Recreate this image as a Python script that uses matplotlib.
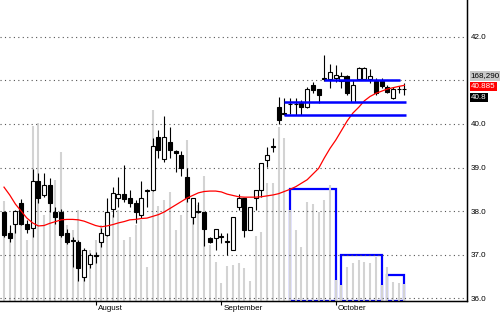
import numpy as np
import matplotlib
matplotlib.use("Agg")
import matplotlib.pyplot as plt
import matplotlib.transforms as mtrans

plt.rcParams['font.family'] = ['Liberation Sans', 'DejaVu Sans']

opens = [37.98, 37.49, 37.70, 38.19, 37.70, 37.61, 38.70, 38.37, 38.60, 37.99,
         37.99, 37.50, 37.34, 37.30, 36.50, 36.78, 36.98, 37.30, 37.45, 38.06,
         38.30, 38.40, 38.31, 38.19, 37.92, 38.46, 38.48, 39.70, 39.19, 39.59,
         39.38, 39.29, 38.79, 37.87, 37.99, 37.99, 37.38, 37.38, 37.40, 37.30,
         37.11, 38.09, 38.29, 37.57, 38.29, 38.48, 39.17, 39.48, 40.39, 40.23,
         40.45, 40.45, 40.49, 40.38, 40.89, 40.79, 41.02, 41.02, 41.05, 40.99,
         41.10, 40.51, 41.02, 41.02, 41.02, 40.99, 40.99, 40.85, 40.59, 40.79,
         40.79]
highs = [38.00, 37.68, 38.02, 38.28, 37.80, 38.96, 38.88, 38.87, 38.76, 38.10,
         38.05, 37.59, 37.41, 37.34, 37.15, 37.04, 37.07, 37.61, 38.29, 38.55,
         38.79, 39.06, 38.48, 38.25, 38.68, 38.50, 39.67, 39.86, 40.18, 39.93,
         39.40, 39.38, 38.98, 38.30, 38.22, 37.99, 37.41, 37.58, 37.50, 37.49,
         37.87, 38.39, 38.29, 38.09, 38.48, 39.10, 39.48, 39.67, 40.62, 40.59,
         40.59, 40.59, 40.55, 40.85, 40.97, 40.79, 41.57, 41.37, 41.35, 41.20,
         41.12, 41.00, 41.30, 41.30, 41.25, 41.05, 41.05, 40.89, 40.85, 40.87,
         40.93]
lows = [37.40, 37.30, 37.49, 37.68, 37.50, 37.40, 38.18, 38.33, 37.99, 37.70,
        37.41, 37.24, 36.72, 36.40, 36.40, 36.69, 36.82, 37.18, 37.42, 37.87,
        38.10, 38.20, 38.10, 37.72, 37.85, 38.10, 38.47, 39.21, 39.13, 39.22,
        38.90, 38.80, 38.22, 37.70, 37.95, 37.20, 37.26, 37.11, 37.28, 36.99,
        37.11, 38.03, 37.41, 37.57, 38.03, 38.33, 39.02, 39.36, 40.00, 40.20,
        40.23, 40.20, 40.20, 40.36, 40.72, 40.49, 40.98, 40.82, 40.95, 40.82,
        40.66, 40.50, 41.00, 41.00, 40.93, 40.66, 40.82, 40.70, 40.56, 40.70,
        40.66]
closes = [37.45, 37.38, 38.00, 37.70, 37.58, 38.68, 38.30, 38.60, 38.18, 37.87,
          37.45, 37.30, 37.31, 36.69, 37.11, 36.99, 37.00, 37.50, 37.99, 38.41,
          38.40, 38.27, 38.19, 37.99, 38.29, 38.48, 39.49, 39.40, 39.71, 39.40,
          39.34, 38.98, 38.29, 38.29, 38.00, 37.58, 37.30, 37.58, 37.42, 37.31,
          37.87, 38.29, 37.57, 38.09, 38.48, 39.10, 39.29, 39.50, 40.09, 40.24,
          40.46, 40.46, 40.38, 40.79, 40.78, 40.66, 41.05, 41.20, 41.12, 41.10,
          40.70, 40.89, 41.28, 41.28, 41.10, 40.70, 40.87, 40.74, 40.79, 40.80,
          40.80]
# volume in thousands
volume = [1000, 700, 855, 955, 605, 1745, 1775, 855, 1005, 1205,
          1485, 755, 705, 905, 455, 505, 605, 755, 655, 855,
          905, 605, 635, 755, 805, 335, 1905, 945, 1005, 1085,
          705, 855, 1605, 905, 955, 1245, 555, 385, 175, 345,
          355, 375, 325, 195, 645, 685, 1175, 1175, 1735, 1625,
          905, 705, 535, 985, 965, 885, 1005, 1155, 205, 155,
          335, 375, 405, 385, 375, 435, 155, 335, 185, 175,
          168.29]
ma = [38.55, 38.37, 38.16, 38.00, 37.84, 37.73, 37.66, 37.67, 37.72, 37.76,
      37.80, 37.81, 37.81, 37.80, 37.77, 37.72, 37.67, 37.64, 37.66, 37.69,
      37.73, 37.76, 37.80, 37.81, 37.83, 37.84, 37.88, 37.92, 37.98, 38.06,
      38.14, 38.22, 38.30, 38.36, 38.42, 38.45, 38.46, 38.46, 38.44, 38.39,
      38.36, 38.33, 38.32, 38.32, 38.32, 38.33, 38.35, 38.37, 38.40, 38.45,
      38.50, 38.56, 38.64, 38.72, 38.85, 38.98, 39.22, 39.44, 39.63, 39.85,
      40.07, 40.25, 40.38, 40.53, 40.63, 40.70, 40.75, 40.80, 40.83, 40.86,
      40.885]

# volume boxes: start index, end index, height (thousands)
box_start = [50, 59, 67]
box_end = [58, 66, 70]
box_vol = [1112, 455, 258]

# horizontal levels: price, start index, end index
lvl_price = [41.0, 40.5, 40.2]
lvl_start = [56, 49, 49]
lvl_end = [69.2, 70.2, 70.2]

month_pos = [16, 38, 58]
month_names = ["August", "September", "October"]

price_ticks = [36.0, 37.0, 38.0, 39.0, 40.0, 41.0, 42.0]

tag_text = ["168,290", "40.885", "40.8"]
tag_y = [41.10, 40.862, 40.61]
tag_bg = ["#c8c8c8", "#ff0000", "#000000"]
tag_fg = ["black", "white", "white"]

fig = plt.figure(figsize=(5, 3.12), dpi=100)
ax = fig.add_axes([0, 11.5 / 312, 467 / 500, 300.5 / 312])
ax2 = ax.twinx()
ax.set_zorder(ax2.get_zorder() + 1)
ax.patch.set_visible(False)

idx = np.arange(len(closes))
o = np.array(opens)
c = np.array(closes)

# volume + boxes on the back axis
ax2.vlines(idx, 0, volume, color="#d3d3d3", linewidth=1.5)
for s, e, v in zip(box_start, box_end, box_vol):
    ax2.add_patch(plt.Rectangle((s, 0), e - s, v, fill=False,
                                edgecolor="#0000ff", linewidth=1.6))
ax2.set_ylim(0, 3005)
ax2.set_yticks([])

# grid
for p in price_ticks:
    ax.axhline(p, color="#555555", linestyle=(0, (1, 3)), linewidth=0.8, zorder=1)

# candles
ax.vlines(idx, lows, highs, color="black", linewidth=0.8, zorder=3)
up = c >= o
bottom = np.minimum(o, c)
height = np.maximum(np.abs(c - o), 0.005)
ax.bar(idx[up], height[up], bottom=bottom[up], width=0.7,
       facecolor="white", edgecolor="black", linewidth=0.8, zorder=4)
ax.bar(idx[~up], height[~up], bottom=bottom[~up], width=0.7,
       facecolor="black", edgecolor="black", linewidth=0.8, zorder=4)

ax.plot(idx, ma, color="#ff0000", linewidth=0.9, zorder=5)

for p, s, e in zip(lvl_price, lvl_start, lvl_end):
    ax.hlines(p, s, e, color="#0000ff", linewidth=1.8, zorder=6)

ax.set_xlim(-0.7, 80.94)
ax.set_ylim(35.95, 42.842)

ax.yaxis.tick_right()
ax.set_yticks(price_ticks)
ax.set_yticklabels(["" if p == 41.0 else f"{p:.1f}" for p in price_ticks])
ax.tick_params(axis="y", length=0, pad=3, labelsize=5.8)
ax.set_xticks(month_pos)
ax.set_xticklabels(month_names, ha="left")
ax.tick_params(axis="x", length=3, width=0.8, pad=0.5, labelsize=5.8)
shift = mtrans.ScaledTranslation(2 / 100, 0, fig.dpi_scale_trans)
for lab in ax.get_xticklabels():
    lab.set_transform(lab.get_transform() + shift)

for side in ["top", "left"]:
    ax.spines[side].set_visible(False)
    ax2.spines[side].set_visible(False)
ax.spines["right"].set_linewidth(1)
ax.spines["bottom"].set_linewidth(1)

trans = mtrans.blended_transform_factory(ax.transAxes, ax.transData)
for t, y, bg, fg in zip(tag_text, tag_y, tag_bg, tag_fg):
    ax.text(1.008, y, t, transform=trans, va="center", ha="left",
            fontsize=5.8, color=fg, clip_on=False, zorder=10,
            bbox=dict(boxstyle="square,pad=0.15", facecolor=bg, edgecolor="none"))

fig.savefig("out.png", dpi=100)
